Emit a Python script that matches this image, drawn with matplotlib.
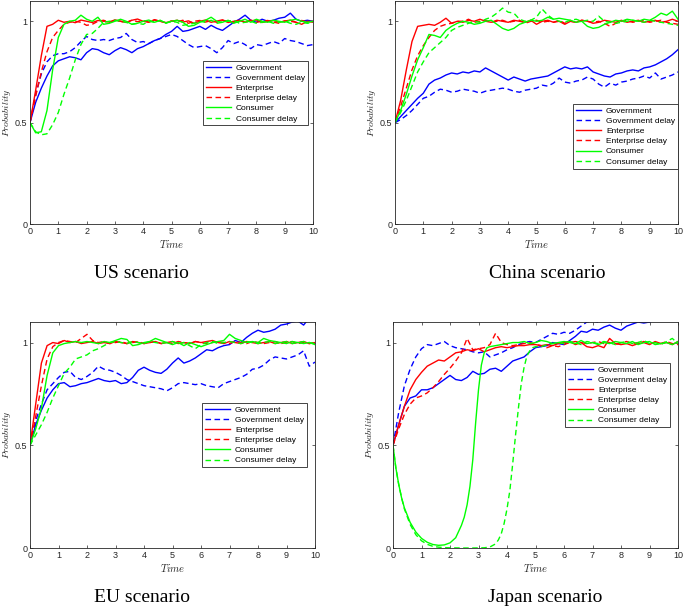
import matplotlib
matplotlib.use('Agg')
from matplotlib import pyplot as plt
import numpy as np

plt.rcParams['mathtext.fontset'] = 'cm'

# time grid used by the sampled curves (0.2 steps)
t = np.round(np.arange(0, 10.001, 0.2), 2)

# ---------------- US scenario ----------------
us_gov = [0.50, 0.60, 0.67, 0.73, 0.78, 0.805, 0.815, 0.825, 0.82, 0.81, 0.845, 0.865, 0.86, 0.845, 0.835,
          0.855, 0.87, 0.86, 0.845, 0.865, 0.875, 0.89, 0.905, 0.915, 0.935, 0.95, 0.975, 0.95, 0.955, 0.965,
          0.975, 0.96, 0.98, 0.965, 0.955, 0.975, 0.995, 1.01, 1.03, 1.005, 0.995, 1.01, 1.0, 1.005, 1.015,
          1.02, 1.04, 1.01, 1.0, 1.005, 1.0]
us_gov_d = [0.50, 0.64, 0.74, 0.80, 0.83, 0.84, 0.84, 0.85, 0.87, 0.90, 0.925, 0.91, 0.905, 0.91, 0.905,
            0.915, 0.92, 0.94, 0.91, 0.895, 0.90, 0.89, 0.905, 0.915, 0.925, 0.935, 0.925, 0.905, 0.885, 0.87,
            0.875, 0.88, 0.865, 0.845, 0.87, 0.905, 0.89, 0.90, 0.885, 0.865, 0.885, 0.88, 0.89, 0.90, 0.89,
            0.915, 0.905, 0.90, 0.89, 0.88, 0.885]
us_ent = [0.50, 0.66, 0.83, 0.975, 0.985, 1.005, 0.995, 1.0, 0.993, 1.006, 1.0, 0.994, 1.004, 1.0, 0.996,
          1.007, 1.0, 0.994, 1.005, 1.011, 1.0, 0.995, 1.006, 1.0, 0.993, 1.0, 1.005, 0.996, 1.002, 0.99,
          1.0, 1.006, 0.995, 1.001, 1.007, 0.994, 1.0, 1.005, 0.996, 1.002, 1.006, 0.994, 1.0, 1.004, 0.995,
          1.001, 1.006, 0.995, 0.985, 1.0, 0.995]
us_ent_d = [0.50, 0.63, 0.75, 0.85, 0.92, 0.955, 0.985, 0.995, 1.0, 0.995, 0.98, 0.985, 1.0, 1.005, 0.995,
            1.004, 1.0, 0.993, 1.006, 0.998, 1.003, 0.996, 1.008, 1.0, 0.993, 1.002, 0.997, 1.005, 0.99, 1.0,
            1.004, 0.996, 1.003, 0.995, 1.005, 1.0, 0.994, 1.003, 0.997, 1.006, 0.995, 1.0, 1.004, 0.996,
            0.99, 1.002, 1.0, 0.995, 1.004, 0.998, 1.0]
us_con = [0.50, 0.45, 0.455, 0.56, 0.76, 0.92, 0.985, 1.0, 1.005, 1.03, 1.01, 1.0, 1.02, 0.985, 0.99,
          1.0, 1.01, 1.0, 0.985, 0.99, 1.0, 1.006, 0.995, 1.004, 0.992, 1.0, 1.005, 0.995, 0.975, 0.98,
          0.995, 1.005, 1.02, 1.0, 0.995, 1.005, 0.99, 1.0, 1.01, 0.995, 1.01, 1.0, 0.995, 1.005, 1.0,
          0.995, 1.005, 1.01, 1.0, 0.995, 1.0]
us_con_d = [0.50, 0.455, 0.44, 0.445, 0.49, 0.55, 0.64, 0.72, 0.81, 0.885, 0.935, 0.94, 0.965, 0.995, 1.0,
            1.005, 1.0, 0.995, 0.985, 0.99, 0.985, 1.0, 0.995, 1.005, 0.99, 1.0, 0.995, 0.98, 0.985, 0.99,
            1.0, 0.995, 1.005, 0.99, 0.995, 1.0, 1.005, 0.99, 0.995, 1.0, 0.99, 0.995, 1.0, 0.99, 0.995,
            1.0, 0.99, 0.985, 0.995, 0.99, 0.995]

# ---------------- China scenario ----------------
cn_gov = [0.50, 0.53, 0.56, 0.59, 0.62, 0.645, 0.69, 0.71, 0.72, 0.735, 0.745, 0.74, 0.75, 0.745, 0.755,
          0.75, 0.77, 0.755, 0.74, 0.725, 0.71, 0.725, 0.715, 0.705, 0.715, 0.72, 0.725, 0.73, 0.745, 0.76,
          0.775, 0.765, 0.77, 0.765, 0.775, 0.75, 0.74, 0.73, 0.725, 0.74, 0.745, 0.755, 0.76, 0.755, 0.77,
          0.775, 0.785, 0.80, 0.815, 0.835, 0.86]
cn_gov_d = [0.50, 0.515, 0.535, 0.56, 0.59, 0.62, 0.63, 0.65, 0.665, 0.66, 0.65, 0.655, 0.665, 0.66, 0.655,
            0.645, 0.655, 0.66, 0.665, 0.67, 0.665, 0.655, 0.65, 0.66, 0.665, 0.67, 0.685, 0.68, 0.695, 0.72,
            0.70, 0.695, 0.705, 0.71, 0.725, 0.715, 0.69, 0.675, 0.695, 0.685, 0.70, 0.705, 0.715, 0.72, 0.73,
            0.72, 0.745, 0.715, 0.725, 0.735, 0.75]
cn_ent = [0.50, 0.61, 0.76, 0.90, 0.975, 0.98, 0.985, 0.98, 0.995, 1.015, 0.99, 1.0, 0.995, 1.005, 1.0,
          1.01, 1.0, 0.995, 1.005, 1.0, 0.995, 1.005, 1.0, 0.995, 1.005, 0.985, 1.0, 1.005, 0.995, 1.0,
          0.985, 1.0, 0.995, 1.005, 1.0, 0.99, 0.995, 1.005, 1.0, 0.995, 1.005, 0.995, 1.0, 1.005, 0.995,
          1.0, 1.005, 0.995, 1.0, 1.01, 1.0]
cn_ent_d = [0.50, 0.58, 0.67, 0.76, 0.83, 0.88, 0.92, 0.955, 0.975, 0.985, 0.99, 1.0, 1.0, 1.01, 0.995,
            1.0, 1.005, 0.995, 1.0, 1.005, 0.995, 1.0, 1.005, 0.99, 1.0, 1.005, 0.995, 1.0, 0.995, 1.005,
            0.99, 1.0, 0.995, 1.005, 1.0, 0.995, 1.0, 0.99, 0.975, 0.99, 1.0, 1.005, 0.995, 1.0, 1.005,
            0.995, 1.0, 1.005, 0.995, 0.99, 0.985]
cn_con = [0.50, 0.56, 0.64, 0.73, 0.81, 0.87, 0.935, 0.93, 0.92, 0.955, 0.975, 0.99, 1.0, 0.995, 0.985,
          0.99, 1.0, 1.005, 0.985, 0.965, 0.955, 0.965, 0.985, 0.995, 1.005, 1.0, 1.005, 1.02, 1.01, 1.015,
          1.01, 1.005, 0.995, 1.0, 0.975, 0.965, 0.97, 0.985, 0.995, 1.005, 1.0, 1.01, 1.005, 1.0, 1.01,
          1.005, 1.02, 1.04, 1.03, 1.05, 1.01]
cn_con_d = [0.50, 0.55, 0.61, 0.68, 0.75, 0.80, 0.845, 0.87, 0.895, 0.92, 0.955, 0.97, 0.98, 0.99, 1.0,
            0.995, 1.01, 1.02, 1.04, 1.065, 1.045, 1.04, 1.01, 1.0, 1.005, 1.02, 1.06, 1.03, 1.01, 1.0,
            0.995, 1.005, 1.01, 1.0, 1.005, 1.0, 1.025, 1.0, 0.995, 0.99, 0.995, 1.0, 1.005, 1.0, 0.995,
            1.005, 1.0, 0.995, 0.99, 0.985, 0.98]

# ---------------- EU scenario ----------------
eu_gov = [0.50, 0.60, 0.67, 0.73, 0.77, 0.80, 0.805, 0.785, 0.79, 0.80, 0.805, 0.815, 0.825, 0.815, 0.81,
          0.815, 0.80, 0.805, 0.83, 0.865, 0.88, 0.865, 0.855, 0.85, 0.87, 0.90, 0.925, 0.90, 0.91, 0.925,
          0.945, 0.965, 0.96, 0.975, 0.985, 0.99, 1.01, 1.0, 1.025, 1.045, 1.06, 1.05, 1.055, 1.065, 1.085,
          1.09, 1.10, 1.105, 1.085, 1.12, 1.12]
eu_gov_d = [0.50, 0.62, 0.70, 0.77, 0.80, 0.83, 0.855, 0.86, 0.83, 0.82, 0.835, 0.855, 0.885, 0.87, 0.865,
            0.855, 0.84, 0.82, 0.81, 0.80, 0.79, 0.785, 0.78, 0.775, 0.765, 0.78, 0.80, 0.805, 0.80, 0.795,
            0.80, 0.79, 0.785, 0.78, 0.80, 0.81, 0.82, 0.83, 0.845, 0.87, 0.875, 0.89, 0.915, 0.93, 0.925,
            0.92, 0.93, 0.94, 0.96, 0.885, 0.905]
eu_ent = [0.50, 0.70, 0.90, 0.985, 1.0, 0.995, 1.01, 1.0, 1.005, 0.995, 1.0, 1.005, 0.995, 1.0, 0.995,
          1.005, 1.0, 0.995, 1.005, 1.0, 0.995, 1.0, 1.005, 0.995, 1.0, 1.005, 0.995, 1.0, 0.995, 1.005,
          1.0, 1.005, 1.01, 1.0, 0.995, 1.005, 1.0, 0.995, 1.005, 1.0, 0.995, 1.0, 1.005, 0.995, 1.0,
          1.005, 0.995, 1.0, 1.005, 0.995, 1.0]
eu_ent_d = [0.50, 0.64, 0.79, 0.92, 0.98, 1.0, 1.01, 1.005, 1.0, 1.02, 1.04, 1.01, 1.0, 1.005, 0.995,
            1.0, 1.005, 0.995, 1.0, 1.005, 0.995, 1.0, 1.005, 0.995, 1.0, 0.995, 1.005, 1.0, 0.995, 1.005,
            1.0, 0.995, 1.0, 1.005, 1.0, 0.995, 1.005, 1.0, 0.995, 1.005, 1.0, 0.995, 1.0, 1.005, 0.995,
            1.0, 1.005, 0.995, 1.0, 0.995, 1.0]
eu_con = [0.50, 0.58, 0.68, 0.84, 0.95, 0.985, 0.995, 1.0, 1.005, 1.0, 1.005, 1.0, 0.995, 1.005, 1.0,
          1.01, 1.02, 1.015, 0.985, 0.99, 1.0, 1.005, 1.02, 1.01, 1.0, 0.99, 1.0, 0.985, 1.0, 0.99,
          0.98, 0.99, 1.0, 1.005, 1.01, 1.04, 1.02, 1.01, 1.0, 1.005, 1.0, 1.02, 1.01, 1.005, 1.0,
          0.995, 1.005, 1.0, 0.995, 1.0, 0.99]
eu_con_d = [0.50, 0.55, 0.60, 0.66, 0.73, 0.79, 0.85, 0.88, 0.92, 0.93, 0.94, 0.96, 0.97, 0.985, 1.0,
            1.005, 1.0, 0.995, 1.005, 1.0, 0.995, 1.005, 1.0, 0.995, 1.0, 1.005, 0.995, 1.0, 0.985, 0.97,
            0.99, 1.0, 1.005, 0.995, 1.0, 1.005, 1.0, 0.995, 1.005, 1.0, 0.995, 1.0, 1.005, 0.995, 1.0,
            1.005, 0.995, 1.0, 1.005, 1.0, 0.995]

# ---------------- Japan scenario ----------------
jp_gov = [0.50, 0.60, 0.69, 0.73, 0.74, 0.77, 0.77, 0.78, 0.80, 0.82, 0.84, 0.82, 0.815, 0.83, 0.86,
          0.845, 0.85, 0.87, 0.875, 0.86, 0.885, 0.91, 0.92, 0.93, 0.955, 0.975, 0.98, 0.985, 1.0, 0.995,
          0.99, 1.01, 1.03, 1.055, 1.05, 1.065, 1.06, 1.075, 1.085, 1.07, 1.06, 1.08, 1.09, 1.10, 1.095,
          1.10, 1.11, 1.12, 1.12, 1.13, 1.13]
jp_gov_d = [0.50, 0.66, 0.79, 0.87, 0.93, 0.97, 0.99, 0.985, 0.995, 1.005, 0.985, 0.975, 0.97, 0.965, 0.955,
            0.95, 0.955, 0.93, 0.94, 0.95, 0.965, 0.975, 0.99, 1.0, 1.005, 1.0, 1.015, 1.03, 1.045, 1.04,
            1.05, 1.045, 1.06, 1.08, 1.10, 1.105, 1.10, 1.11, 1.10, 1.11, 1.10, 1.105, 1.11, 1.105, 1.11,
            1.10, 1.11, 1.12, 1.12, 1.13, 1.13]
jp_ent = [0.50, 0.60, 0.69, 0.77, 0.82, 0.855, 0.885, 0.90, 0.915, 0.91, 0.93, 0.95, 0.955, 0.965, 0.96,
          0.97, 0.955, 0.965, 0.975, 0.98, 0.975, 0.98, 0.985, 0.985, 0.99, 0.99, 0.985, 0.99, 0.985, 0.995,
          1.0, 1.005, 0.99, 1.0, 0.98, 0.975, 0.985, 0.975, 1.02, 0.995, 0.99, 0.995, 0.985, 0.995, 1.0,
          0.99, 1.005, 0.995, 1.0, 0.99, 1.005]
jp_ent_d = [0.50, 0.58, 0.65, 0.70, 0.73, 0.74, 0.755, 0.78, 0.81, 0.845, 0.875, 0.91, 0.95, 1.02, 0.965,
            0.97, 0.975, 0.99, 1.045, 1.0, 0.99, 0.985, 0.99, 0.995, 1.0, 0.99, 0.985, 0.975, 0.985, 0.98,
            0.99, 1.0, 1.005, 1.0, 0.995, 1.0, 1.005, 0.995, 1.0, 0.99, 1.0, 1.005, 0.995, 1.0, 1.005,
            0.995, 1.0, 0.995, 1.005, 0.995, 0.99]
# consumer curves in Japan are sampled more finely where they turn
jp_con_t = [0, 0.1, 0.2, 0.3, 0.4, 0.6, 0.8, 1.0, 1.2, 1.4, 1.6, 1.8, 2.0, 2.2, 2.4, 2.5, 2.6, 2.7, 2.8,
            2.9, 3.0, 3.1, 3.2, 3.3, 3.4, 3.6, 3.8, 4.0, 4.2, 4.4, 4.6, 4.8, 5.0, 5.2, 5.4, 5.6, 5.8, 6.0,
            6.2, 6.4, 6.6, 6.8, 7.0, 7.2, 7.4, 7.6, 7.8, 8.0, 8.2, 8.4, 8.6, 8.8, 9.0, 9.2, 9.4, 9.6, 9.8, 10]
jp_con = [0.50, 0.39, 0.31, 0.245, 0.195, 0.125, 0.078, 0.047, 0.028, 0.017, 0.013, 0.015, 0.025, 0.05,
          0.11, 0.15, 0.21, 0.30, 0.43, 0.61, 0.77, 0.89, 0.95, 0.975, 0.98, 0.985, 0.99, 0.995, 1.0, 1.0,
          1.005, 0.995, 1.0, 1.01, 1.005, 0.995, 1.0, 1.005, 1.0, 0.995, 1.01, 0.995, 1.0, 0.99, 1.0, 0.995,
          1.005, 1.0, 0.995, 1.005, 0.99, 1.0, 1.005, 0.99, 0.995, 1.0, 0.99, 1.005]
jp_con_d_t = [0, 0.1, 0.2, 0.3, 0.4, 0.6, 0.8, 1.0, 1.2, 1.4, 1.6, 1.8, 2.0, 2.4, 2.8, 3.2, 3.4, 3.6, 3.7,
              3.8, 3.9, 4.0, 4.1, 4.2, 4.3, 4.4, 4.5, 4.6, 4.7, 4.8, 4.9, 5.0, 5.2, 5.4, 5.6, 5.8, 6.0, 6.2,
              6.4, 6.6, 6.8, 7.0, 7.2, 7.4, 7.6, 7.8, 8.0, 8.2, 8.4, 8.6, 8.8, 9.0, 9.2, 9.4, 9.6, 9.8, 10]
jp_con_d = [0.50, 0.39, 0.31, 0.245, 0.19, 0.115, 0.065, 0.035, 0.018, 0.008, 0.004, 0.002, 0.001, 0.0,
            0.0, 0.001, 0.005, 0.02, 0.04, 0.07, 0.12, 0.19, 0.28, 0.41, 0.55, 0.68, 0.80, 0.88, 0.935,
            0.96, 0.975, 0.98, 0.98, 0.99, 0.995, 1.0, 0.995, 1.005, 1.0, 0.99, 1.005, 1.0, 0.995, 1.005,
            1.0, 0.99, 1.0, 1.005, 0.995, 1.0, 1.01, 0.995, 1.0, 0.99, 1.005, 1.02, 0.995]

labels = ['Government', 'Government delay', 'Enterprise', 'Enterprise delay', 'Consumer', 'Consumer delay']
captions = ['US scenario', 'China scenario', 'EU scenario', 'Japan scenario']

panels = [
    [(t, us_gov), (t, us_gov_d), (t, us_ent), (t, us_ent_d), (t, us_con), (t, us_con_d)],
    [(t, cn_gov), (t, cn_gov_d), (t, cn_ent), (t, cn_ent_d), (t, cn_con), (t, cn_con_d)],
    [(t, eu_gov), (t, eu_gov_d), (t, eu_ent), (t, eu_ent_d), (t, eu_con), (t, eu_con_d)],
    [(t, jp_gov), (t, jp_gov_d), (t, jp_ent), (t, jp_ent_d), (jp_con_t, jp_con), (jp_con_d_t, jp_con_d)],
]

colors = ['#0000ff', '#0000ff', '#ff0000', '#ff0000', '#00ff00', '#00ff00']
styles = ['-', (0, (4, 2.5)), '-', (0, (4, 2.5)), '-', (0, (4, 2.5))]

W, H = 685, 607
rects = [
    [30 / W, 1 - 224 / H, 283 / W, 223 / H],
    [395 / W, 1 - 224 / H, 283 / W, 223 / H],
    [30 / W, 1 - 548 / H, 285 / W, 226 / H],
    [393 / W, 1 - 548 / H, 285 / W, 226 / H],
]
legend_anchor = [(0.982, 0.731), (1.0, 0.538), (0.972, 0.642), (0.972, 0.819)]
caption_pos = [(141, 273), (547, 273), (142, 597), (545, 597)]

fig = plt.figure(figsize=(6.85, 6.07), dpi=100)

for i in range(4):
    ax = fig.add_axes(rects[i])
    for j in range(6):
        xs, ys = panels[i][j]
        ax.plot(xs, ys, color=colors[j], linestyle=styles[j], linewidth=1.0, label=labels[j])
    ax.set_xlim(0, 10)
    ax.set_ylim(0, 1.1)
    ax.set_xticks(range(0, 11))
    ax.set_yticks([0, 0.5, 1])
    ax.set_yticklabels(['0', '0.5', '1'])
    ax.tick_params(direction='in', top=True, right=True, length=2.5, width=0.5,
                   labelsize=6.5, pad=2, colors='#262626')
    for lbl in ax.get_xticklabels() + ax.get_yticklabels():
        lbl.set_family('Liberation Sans')
    for sp in ax.spines.values():
        sp.set_linewidth(0.6)
        sp.set_color('#262626')
    ax.set_xlabel(r'$Time$', fontsize=7.5, labelpad=1.5, color='#262626')
    ax.set_ylabel(r'$Probability$', fontsize=7, color='#262626')
    # put the y label close to the left edge, as in the original
    ax.yaxis.set_label_coords(-16.5 / (rects[i][2] * W), 0.5)
    leg = ax.legend(loc='upper right', bbox_to_anchor=legend_anchor[i],
                    prop={'family': 'Liberation Sans', 'size': 6},
                    frameon=True, fancybox=False, framealpha=1, edgecolor='#262626',
                    borderpad=0.35, labelspacing=0.28, handlelength=3.0, handletextpad=0.6,
                    borderaxespad=0)
    leg.get_frame().set_linewidth(0.6)
    cx, cy = caption_pos[i]
    fig.text(cx / W, 1 - cy / H, captions[i], ha='center', va='center',
             family='Liberation Serif', fontsize=14)

fig.savefig('out.png', dpi=100)
